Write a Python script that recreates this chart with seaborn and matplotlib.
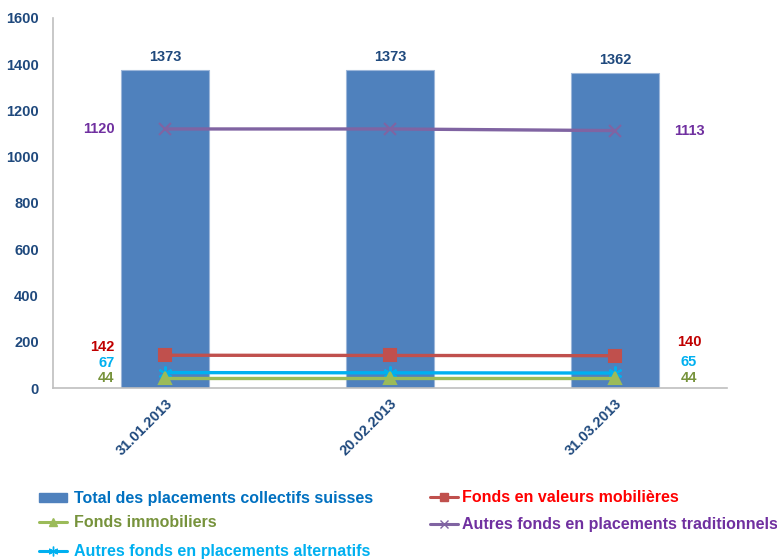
import numpy as np
import pandas as pd
import matplotlib
matplotlib.use("Agg")
import matplotlib.pyplot as plt
import seaborn as sns
from matplotlib.lines import Line2D
from matplotlib.patches import Patch

dates = ["31.01.2013", "20.02.2013", "31.03.2013"]
total = [1373, 1373, 1362]
valeurs_mobilieres = [142, 141, 140]
immobiliers = [44, 44, 44]
traditionnels = [1120, 1120, 1113]
alternatifs = [67, 66, 65]

series_names = {
    "total": "Total des placements collectifs suisses",
    "valeurs": "Fonds en valeurs mobilières",
    "immo": "Fonds immobiliers",
    "trad": "Autres fonds en placements traditionnels",
    "alt": "Autres fonds en placements alternatifs",
}

sns.set_theme(style="white")
plt.rcParams["font.family"] = ["Liberation Sans", "DejaVu Sans"]
plt.rcParams["font.weight"] = "bold"

axis_blue = "#1F497D"
bar_color = "#4F81BD"
lab_size = 10.5

df = pd.DataFrame({"date": dates, "total": total, "pos": np.arange(len(dates))})

fig = plt.figure(figsize=(7.77, 5.60), dpi=100)
ax = fig.add_axes([0.068, 0.307, 0.868, 0.661])

sns.barplot(data=df, x="pos", y="total", color=bar_color, width=0.39,
            saturation=1, ax=ax, native_scale=True, edgecolor="#9DB7DA", linewidth=0.8)

# (values, line colour, marker, marker size, label colour, left label shift, right label shift)
line_specs = [
    (traditionnels, "#8064A2", "x", 9, "#7030A0", 0, 0),
    (valeurs_mobilieres, "#C0504D", "s", 8, "#C00000", 35, 59),
    (alternatifs, "#00B0F0", (6, 2, 0), 10, "#00B0F0", 40, 47),
    (immobiliers, "#9BBB59", "^", 9, "#77933C", -2, -2),
]
for vals, col, mk, ms, _, _, _ in line_specs:
    sns.lineplot(x=df["pos"], y=vals, color=col, marker=mk, markersize=ms,
                 markeredgecolor=col, markeredgewidth=1.5, linewidth=2.4, ax=ax)

# Bar value labels
for i, v in enumerate(total):
    ax.text(i, v + 28, f"{v}", ha="center", va="bottom", fontsize=lab_size,
            fontweight="bold", color=axis_blue)

# Line value labels beside the first and last points
for vals, col, mk, ms, tcol, dy_l, dy_r in line_specs:
    yl, yr = vals[0], vals[-1]
    ax.text(-0.225, yl + dy_l, f"{yl}", ha="right", va="center", fontsize=lab_size,
            fontweight="bold", color=tcol)
    ax.text(2.33, yr + dy_r, f"{yr}", ha="center", va="center", fontsize=lab_size,
            fontweight="bold", color=tcol)

ax.set_xlim(-0.5, 2.5)
ax.set_ylim(0, 1600)
ax.set_yticks(np.arange(0, 1601, 200))
ax.set_xticks(range(len(dates)))
ax.set_xticklabels(dates, rotation=45, ha="right", rotation_mode="anchor")
ax.set_xlabel("")
ax.set_ylabel("")

for lab in ax.get_yticklabels() + ax.get_xticklabels():
    lab.set_color(axis_blue)
    lab.set_fontweight("bold")
    lab.set_fontsize(lab_size)

for s in ["top", "right"]:
    ax.spines[s].set_visible(False)
for s in ["left", "bottom"]:
    ax.spines[s].set_color("#BFBFBF")
    ax.spines[s].set_linewidth(1.2)

ax.tick_params(axis="y", direction="inout", length=8, color="#BFBFBF", width=1, pad=6)
ax.tick_params(axis="x", length=0, pad=6)
ax.set_xticks([-0.5, 0.5, 1.5, 2.5], minor=True)
ax.tick_params(axis="x", which="minor", direction="out", length=5, color="#BFBFBF", width=1)

# Legend entries: handle, label key, text colour, anchor (figure fraction)
legend_entries = [
    (Patch(facecolor=bar_color, edgecolor=bar_color), "total", "#0070C0", (0.05, 0.123)),
    (Line2D([], [], color="#9BBB59", marker="^", markersize=6, linewidth=2.2),
     "immo", "#77933C", (0.05, 0.080)),
    (Line2D([], [], color="#00B0F0", marker=(6, 2, 0), markersize=7, linewidth=2.2),
     "alt", "#00B0F0", (0.05, 0.028)),
    (Line2D([], [], color="#C0504D", marker="s", markersize=6, linewidth=2.2),
     "valeurs", "#FF0000", (0.553, 0.125)),
    (Line2D([], [], color="#8064A2", marker="x", markersize=6, linewidth=2.2),
     "trad", "#7030A0", (0.553, 0.077)),
]
for handle, key, tcol, anchor in legend_entries:
    leg = fig.legend([handle], [series_names[key]], loc="upper left",
                     bbox_to_anchor=anchor, frameon=False, fontsize=11.5,
                     handlelength=1.75, handleheight=0.55,
                     handletextpad=0.45 if anchor[0] < 0.5 else 0.3,
                     borderaxespad=0, borderpad=0)
    txt = leg.get_texts()[0]
    txt.set_color(tcol)
    txt.set_fontweight("bold")

fig.savefig("out.png", dpi=100)
